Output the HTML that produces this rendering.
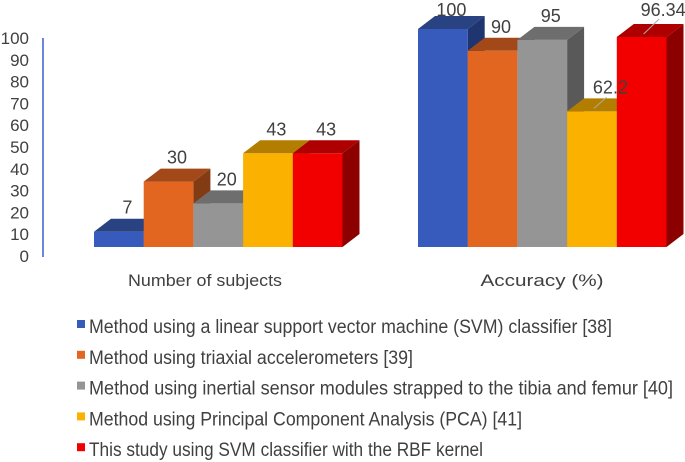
<!DOCTYPE html>
<html><head><meta charset="utf-8"><style>
html,body{margin:0;padding:0;background:#fff;}
svg{display:block;font-family:"Liberation Sans","DejaVu Sans",sans-serif;}
</style></head><body>
<svg id="chart" width="685" height="462" viewBox="0 0 685 462">
<line x1="43" y1="38" x2="43" y2="257" stroke="#3a5fcd" stroke-width="1.5"/>
<g id="ticks"></g>
<g id="bars"></g>
<g id="labels"></g>
<text x="205" y="286" font-size="17" fill="#404040" text-anchor="middle" textLength="154" lengthAdjust="spacingAndGlyphs">Number of subjects</text>
<text x="542" y="286" font-size="17" fill="#404040" text-anchor="middle" textLength="123" lengthAdjust="spacingAndGlyphs">Accuracy (%)</text>
<g id="legend"></g>
</svg>
<script>
const categories = ["Number of subjects", "Accuracy (%)"];
const seriesNames = [
 "Method using a linear support vector machine (SVM) classifier [38]",
 "Method using triaxial accelerometers [39]",
 "Method using inertial sensor modules strapped to the tibia and femur [40]",
 "Method using Principal Component Analysis (PCA) [41]",
 "This study using SVM classifier with the RBF kernel"
];
const subjectsValues = [7, 30, 20, 43, 43];
const accuracyValues = [100, 90, 95, 62.2, 96.34];
const valueLabels = [["7","30","20","43","43"],["100","90","95","62.2","96.34"]];
const yTicks = [0,10,20,30,40,50,60,70,80,90,100];

const NS="http://www.w3.org/2000/svg";
const colors=[["#365bbd","#284282","#1f3570"],["#e2661f","#a34919","#833b14"],["#959595","#6e6e6e","#595959"],["#fbb100","#b37e00","#906500"],["#f20000","#ae0000","#8c0000"]];
const legendLen=[523,324,584,433,394];
function el(t,a,p){const e=document.createElementNS(NS,t);for(const k in a)e.setAttribute(k,a[k]);p.appendChild(e);return e;}
const baseY=247, k=2.18, dx=17, dy=13, bw=49.7;
const groupX=[94,418];
function yScale(v){return baseY-v*k;}
const ticksG=document.getElementById('ticks');
yTicks.forEach(t=>{
 const tx=el('text',{x:29,y:256-t*2.18+6,'font-size':17,fill:'#404040','text-anchor':'end'},ticksG);
 
 
 tx.textContent=t;
});
const barsG=document.getElementById('bars'), labG=document.getElementById('labels');
[subjectsValues,accuracyValues].forEach((vals,g)=>{
 vals.forEach((v,i)=>{
  const x0=groupX[g]+i*bw, x1=x0+bw, yt=yScale(v), c=colors[i];
  const side=el('polygon',{points:`${x1},${baseY} ${x1+dx},${baseY-dy} ${x1+dx},${yt-dy} ${x1},${yt}`,fill:c[2]},barsG);
  
  
  const front=el('rect',{x:x0,y:yt,width:bw,height:baseY-yt,fill:c[0]},barsG);
  
  
  const top=el('polygon',{points:`${x0},${yt} ${x0+dx},${yt-dy} ${x1+dx},${yt-dy} ${x1},${yt}`,fill:c[1]},barsG);
  
  
  const lead=(g==1&&i>=3);
  const lx=(x0+x1)/2+dx/2+(lead?(i==4?13:10):0);
  const ly=Math.max(16, yt-dy-5);
  if(lead){
   const ln=el('line',{x1:(x0+x1)/2+2,y1:yt-3,x2:lx-4,y2:ly+4-(i==3?0:4),stroke:'#aaa','stroke-width':1},labG);
   
   
  }
  const tx=el('text',{x:lx,y:lead&&i==4?ly-3:ly,'font-size':18,fill:'#404040','text-anchor':'middle'},labG);
  
  
  tx.textContent=valueLabels[g][i];
 });
});
const legG=document.getElementById('legend');
seriesNames.forEach((n,i)=>{
 const cy=326+i*30.8;
 const r=el('rect',{x:77,y:cy-6,width:8,height:8,fill:colors[i][0]},legG);
 
 
 const t=el('text',{x:89,y:cy+7,'font-size':19,fill:'#404040',textLength:legendLen[i],lengthAdjust:'spacingAndGlyphs'},legG);
 
 
 t.textContent=n;
});
</script>
</body></html>
